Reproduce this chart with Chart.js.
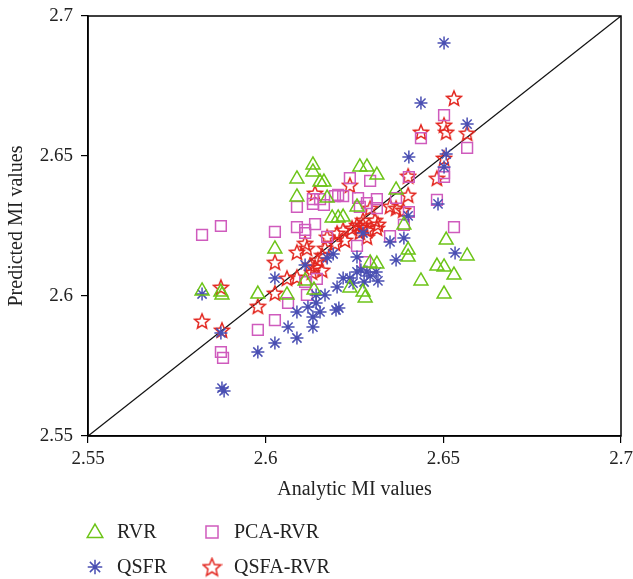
<!DOCTYPE html>
<html>
<head>
<meta charset="utf-8">
<script src="https://cdn.jsdelivr.net/npm/chart.js@4"></script>
<style>
  html, body { margin: 0; padding: 0; background: #fff; }
  #wrap { width: 633px; height: 579px; }
</style>
</head>
<body>
<div id="wrap"><canvas id="chart" width="633" height="579"></canvas></div>
<script>
// axis range and ticks
const axisMin = 2.55;
const axisMax = 2.7;
const tickValues = [2.55, 2.6, 2.65, 2.7];

// RVR
const rvrX = [2.5821, 2.5874, 2.5877, 2.5978, 2.6026, 2.6088, 2.6088, 2.6133, 2.6133, 2.6153,
  2.6164, 2.6173, 2.6187, 2.6204, 2.6218, 2.6257, 2.6265, 2.6285, 2.6313, 2.6367,
  2.606, 2.6111, 2.6136, 2.6237, 2.6274, 2.628, 2.6294, 2.6313, 2.6389, 2.6401,
  2.6401, 2.6437, 2.6482, 2.6502, 2.6508, 2.653, 2.6502, 2.6567];
const rvrY = [2.6018, 2.6014, 2.6004, 2.6007, 2.6168, 2.6418, 2.6354, 2.6468, 2.6443, 2.6407,
  2.6407, 2.635, 2.6279, 2.6279, 2.6282, 2.6318, 2.6461, 2.6461, 2.6432, 2.6379,
  2.6004, 2.6054, 2.6021, 2.6029, 2.6014, 2.5993, 2.6118, 2.6114, 2.6254, 2.6164,
  2.6139, 2.6054, 2.6107, 2.6104, 2.62, 2.6075, 2.6007, 2.6143];

// QSFR
const qsfrX = [2.5821, 2.5874, 2.5877, 2.5883, 2.5978, 2.6026, 2.6026, 2.6063, 2.6088, 2.6088,
  2.6111, 2.6119, 2.6133, 2.6133, 2.6142, 2.6142, 2.6153, 2.6167, 2.6173, 2.619,
  2.6198, 2.6206, 2.6201, 2.6218, 2.6237, 2.6246, 2.6257, 2.6257, 2.6268, 2.6277,
  2.6274, 2.6285, 2.6294, 2.6311, 2.6316, 2.635, 2.6367, 2.6389, 2.6401, 2.6403,
  2.6437, 2.6485, 2.6502, 2.6508, 2.6502, 2.6533, 2.6567];
const qsfrY = [2.6007, 2.5868, 2.5671, 2.5661, 2.58, 2.6064, 2.5832, 2.5889, 2.5943, 2.585,
  2.6111, 2.5961, 2.5925, 2.5889, 2.6004, 2.5975, 2.5943, 2.6004, 2.6136, 2.615,
  2.595, 2.5957, 2.6032, 2.6064, 2.6064, 2.6046, 2.6139, 2.6086, 2.6093, 2.605,
  2.6225, 2.6086, 2.6071, 2.6086, 2.6054, 2.6193, 2.6129, 2.6207, 2.6286, 2.6496,
  2.6689, 2.6329, 2.6904, 2.6507, 2.6461, 2.6154, 2.6614];

// PCA-RVR
const pcaX = [2.5821, 2.5874, 2.5978, 2.5874, 2.588, 2.6026, 2.6026, 2.6063, 2.6088, 2.6088,
  2.6111, 2.6111, 2.6111, 2.6116, 2.6144, 2.6133, 2.6133, 2.6153, 2.6164, 2.6139,
  2.6173, 2.6195, 2.6204, 2.6218, 2.6237, 2.626, 2.6265, 2.6285, 2.6257, 2.628,
  2.6294, 2.6313, 2.6313, 2.635, 2.6367, 2.6389, 2.6403, 2.6403, 2.6482, 2.6502,
  2.6437, 2.6502, 2.6502, 2.653, 2.6567];
const pcaY = [2.6218, 2.625, 2.5879, 2.58, 2.5779, 2.6229, 2.5914, 2.5975, 2.6318, 2.6246,
  2.6236, 2.6225, 2.605, 2.6004, 2.6061, 2.6346, 2.6329, 2.6346, 2.6325, 2.6257,
  2.6211, 2.6357, 2.6361, 2.6357, 2.6421, 2.635, 2.6318, 2.6332, 2.6179, 2.6121,
  2.6411, 2.6346, 2.6314, 2.6214, 2.635, 2.6254, 2.6425, 2.63, 2.6343, 2.6646,
  2.6564, 2.6439, 2.6425, 2.6246, 2.6529];

// QSFA-RVR
const qsfaX = [2.5821, 2.5874, 2.5877, 2.5978, 2.6026, 2.6026, 2.606, 2.6088, 2.6088, 2.6111,
  2.6116, 2.6125, 2.6139, 2.6147, 2.6159, 2.6167, 2.6173, 2.6195, 2.6201, 2.6218,
  2.6223, 2.6243, 2.6257, 2.6274, 2.6265, 2.6285, 2.6139, 2.6237, 2.6274, 2.6265,
  2.6285, 2.6294, 2.6308, 2.6316, 2.6313, 2.635, 2.6367, 2.6387, 2.6401, 2.6401,
  2.6482, 2.6502, 2.6437, 2.6502, 2.6508, 2.6567, 2.653, 2.6159, 2.613];
const qsfaY = [2.5911, 2.6032, 2.5879, 2.5964, 2.6121, 2.6011, 2.6064, 2.6068, 2.6157, 2.6189,
  2.6171, 2.6111, 2.6104, 2.6129, 2.6146, 2.6171, 2.6211, 2.6189, 2.6225, 2.6236,
  2.62, 2.6243, 2.6254, 2.6254, 2.6229, 2.6211, 2.6368, 2.6396, 2.6271, 2.6246,
  2.6236, 2.6314, 2.6271, 2.6257, 2.6243, 2.6321, 2.6314, 2.6307, 2.6361, 2.6429,
  2.6421, 2.6493, 2.6586, 2.6611, 2.6586, 2.6582, 2.6707, 2.6093, 2.6086];

const seriesNames = ['RVR', 'PCA-RVR', 'QSFR', 'QSFA-RVR'];

const pts = (xs, ys) => xs.map((x, i) => ({ x: x, y: ys[i] }));

const FONT = '"Liberation Serif", "DejaVu Serif", serif';

// five point star outline used as point style
function starImage(size, color) {
  const c = document.createElement('canvas');
  c.width = size; c.height = size;
  const g = c.getContext('2d');
  const cx = size / 2, cy = size / 2 + 0.8;
  const ro = size / 2 - 1.2, ri = ro * 0.45;
  g.beginPath();
  for (let i = 0; i < 10; i++) {
    const r = i % 2 === 0 ? ro : ri;
    const a = -Math.PI / 2 + i * Math.PI / 5;
    const px = cx + r * Math.cos(a), py = cy + r * Math.sin(a);
    if (i === 0) g.moveTo(px, py); else g.lineTo(px, py);
  }
  g.closePath();
  g.strokeStyle = color;
  g.lineWidth = 1.5;
  g.stroke();
  return c;
}
const redStar = starImage(18, '#e3261f');
const redStarBig = starImage(21, '#e3261f');

const styles = {
  'RVR': { pointStyle: 'triangle', radius: 8, color: '#6cc417' },
  'PCA-RVR': { pointStyle: 'rect', radius: 7.6, color: '#cf5bbd' },
  'QSFR': { pointStyle: 'star', radius: 6.5, color: '#4a4fb3' },
  'QSFA-RVR': { pointStyle: redStar, radius: 9, color: '#e3261f' }
};

function scatterSet(name, data) {
  const s = styles[name];
  return {
    label: name,
    data: data,
    pointStyle: s.pointStyle,
    pointRadius: s.radius,
    pointHoverRadius: s.radius,
    borderColor: s.color,
    backgroundColor: 'rgba(0,0,0,0)',
    pointBorderWidth: 1.5,
    showLine: false
  };
}

// frame around the plot area and the two-column legend below it
const framePlugin = {
  id: 'frame',
  afterDatasetsDraw(chart) {
    const { ctx, chartArea: a } = chart;
    ctx.save();
    ctx.strokeStyle = '#000';
    ctx.lineWidth = 1.5;
    ctx.strokeRect(a.left, a.top, a.right - a.left, a.bottom - a.top);
    ctx.restore();
  },
  afterDraw(chart) {
    const ctx = chart.ctx;
    const cols = [95, 212];
    const rows = [532, 567];
    const order = [['RVR', 'PCA-RVR'], ['QSFR', 'QSFA-RVR']];
    ctx.save();
    ctx.font = '20px ' + FONT;
    ctx.textBaseline = 'middle';
    order.forEach((row, r) => {
      row.forEach((name, c) => {
        const s = styles[name];
        ctx.strokeStyle = s.color;
        ctx.fillStyle = 'rgba(0,0,0,0)';
        ctx.lineWidth = 1.5;
        Chart.helpers.drawPoint(ctx, {
          pointStyle: name === 'QSFA-RVR' ? redStarBig : s.pointStyle,
          radius: s.radius * 1.12, borderWidth: 1.5, rotation: 0
        }, cols[c], rows[r] + (name === 'RVR' ? 1 : 0));
        ctx.fillStyle = '#222';
        ctx.fillText(name, cols[c] + 22, rows[r] + 1);
      });
    });
    ctx.restore();
  }
};

const tickOpts = {
  color: '#222',
  font: { family: FONT, size: 19 },
  callback: v => String(Number(v.toFixed(2)))
};

new Chart(document.getElementById('chart'), {
  type: 'scatter',
  data: {
    datasets: [
      scatterSet('RVR', pts(rvrX, rvrY)),
      scatterSet('QSFR', pts(qsfrX, qsfrY)),
      scatterSet('PCA-RVR', pts(pcaX, pcaY)),
      scatterSet('QSFA-RVR', pts(qsfaX, qsfaY)),
      {
        type: 'line',
        label: 'y = x',
        data: [{ x: axisMin, y: axisMin }, { x: axisMax, y: axisMax }],
        borderColor: '#111',
        borderWidth: 1.3,
        pointRadius: 0,
        fill: false,
        order: 10
      }
    ]
  },
  options: {
    responsive: false,
    animation: false,
    events: [],
    layout: { padding: { top: 16, right: 12, left: 0, bottom: 73 } },
    plugins: {
      legend: { display: false },
      tooltip: { enabled: false }
    },
    scales: {
      x: {
        type: 'linear',
        min: axisMin,
        max: axisMax,
        afterBuildTicks: s => { s.ticks = tickValues.map(v => ({ value: v })); },
        afterFit: s => { s.height = 70; s.paddingRight = 0; s.paddingLeft = 0; },
        grid: { display: true, drawOnChartArea: false, tickLength: 7, tickColor: '#000', lineWidth: 1.2 },
        border: { display: true, color: '#000', width: 1.5 },
        ticks: Object.assign({ padding: 5, maxRotation: 0 }, tickOpts),
        title: { display: true, text: 'Analytic MI values', color: '#222', font: { family: FONT, size: 20 }, padding: { top: 4, bottom: 4 } }
      },
      y: {
        type: 'linear',
        min: axisMin,
        max: axisMax,
        afterBuildTicks: s => { s.ticks = tickValues.map(v => ({ value: v })); },
        afterFit: s => { s.width = 88; s.paddingTop = 0; s.paddingBottom = 0; },
        grid: { display: true, drawOnChartArea: false, tickLength: 7, tickColor: '#000', lineWidth: 1.2 },
        border: { display: true, color: '#000', width: 1.5 },
        ticks: Object.assign({ padding: 8 }, tickOpts),
        title: { display: true, text: 'Predicted MI values', color: '#222', font: { family: FONT, size: 20 }, padding: { top: 5, bottom: 0 } }
      }
    }
  },
  plugins: [framePlugin]
});
</script>
</body>
</html>
